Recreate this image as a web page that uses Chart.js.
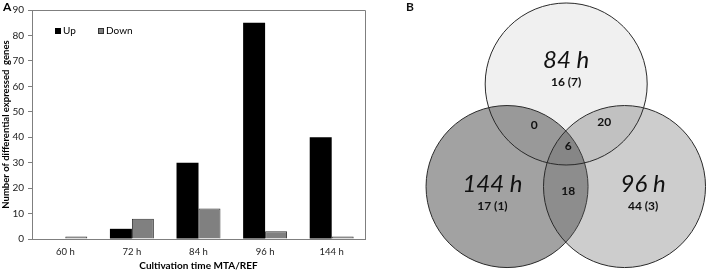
<!DOCTYPE html>
<html>
<head>
<meta charset="utf-8">
<script src="https://cdn.jsdelivr.net/npm/chart.js@4"></script>
<style>
  html, body { margin: 0; padding: 0; background: #fff; }
  #wrap { position: relative; width: 709px; height: 272px; }
  #barBox { position: absolute; left: 0; top: 0; width: 375px; height: 272px; }
  #vennBox { position: absolute; left: 375px; top: 0; width: 334px; height: 272px; }
</style>
</head>
<body>
<div id="wrap">
  <div id="barBox"><canvas id="barChart"></canvas></div>
  <div id="vennBox"><canvas id="vennChart"></canvas></div>
</div>
<script>
// panel A data
const timepoints = ['60 h', '72 h', '84 h', '96 h', '144 h'];
const upGenes = [0, 4, 30, 85, 40];
const downGenes = [1, 8, 12, 3, 1];
const yTicks = [0, 10, 20, 30, 40, 50, 60, 70, 80, 90];

// panel B data
const vennSets = ['144 h', '96 h', '84 h'];
const vennUnique = ['17 (1)', '44 (3)', '16 (7)'];
const vennOverlaps = ['0', '20', '18', '6']; // 84&144, 84&96, 96&144, all

Chart.defaults.font.family = 'Lato, "Liberation Sans", sans-serif';
Chart.defaults.animation = false;

// plot frame + legend + panel letter for the bar chart
const barExtras = {
  id: 'barExtras',
  afterDraw(chart) {
    const ctx = chart.ctx;
    const a = chart.chartArea;
    ctx.save();
    ctx.strokeStyle = '#7f7f7f';
    ctx.lineWidth = 1;
    ctx.beginPath();
    ctx.moveTo(a.left, a.top + 0.5);
    ctx.lineTo(a.right + 0.5, a.top + 0.5);
    ctx.lineTo(a.right + 0.5, a.bottom);
    ctx.stroke();

    // legend
    let x = a.left + 23;
    const y = 31;
    ctx.font = '10px Lato, sans-serif';
    ctx.textBaseline = 'middle';
    chart.data.datasets.forEach(ds => {
      ctx.fillStyle = ds.backgroundColor;
      ctx.fillRect(x, y - 3, 6, 6);
      ctx.strokeStyle = ds.borderColor;
      ctx.strokeRect(x + 0.5, y - 2.5, 5, 5);
      ctx.fillStyle = '#000';
      ctx.fillText(ds.label, x + 8, y);
      x += 43;
    });

    ctx.font = 'bold 12px Lato, sans-serif';
    ctx.fillStyle = '#000';
    ctx.textBaseline = 'top';
    ctx.fillText('A', 3, 1);
    ctx.restore();
  }
};

new Chart(document.getElementById('barChart'), {
  type: 'bar',
  data: {
    labels: timepoints,
    datasets: [
      { label: 'Up', data: upGenes, backgroundColor: '#000000', borderColor: '#000000', borderWidth: 0 },
      { label: 'Down', data: downGenes, backgroundColor: '#808080', borderColor: '#333333', borderWidth: 1 }
    ]
  },
  options: {
    responsive: true,
    maintainAspectRatio: false,
    layout: { padding: { top: 0, right: 10, left: 0, bottom: 0 } },
    categoryPercentage: 0.66,
    barPercentage: 1,
    plugins: { legend: { display: false }, tooltip: { enabled: false } },
    scales: {
      x: {
        grid: { display: false, drawTicks: false },
        border: { color: '#7f7f7f' },
        ticks: { color: '#222', font: { size: 9.5 }, padding: 7 },
        title: {
          display: true, text: 'Cultivation time MTA/REF', color: '#000',
          font: { size: 10, weight: 'bold' }, padding: { top: 1, bottom: 0 }
        },
        afterFit(scale) { scale.height = 33; }
      },
      y: {
        min: 0, max: 90,
        afterBuildTicks(scale) { scale.ticks = yTicks.map(v => ({ value: v })); },
        grid: { drawOnChartArea: false, drawTicks: true, tickLength: 4, color: '#7f7f7f' },
        border: { color: '#7f7f7f' },
        ticks: { color: '#222', font: { size: 10 }, padding: 4 },
        title: {
          display: true, text: 'Number of differential expressed  genes', color: '#000',
          font: { size: 9.5, weight: 'bold' }, padding: { top: 0, bottom: 0 }
        },
        afterFit(scale) { scale.width = 32; }
      }
    }
  },
  plugins: [barExtras]
});

// venn layout, in circle-radius units
const vennCenters = [{ x: -0.73, y: -0.633 }, { x: 0.72, y: -0.633 }, { x: 0, y: 0.633 }];
const vennFills = ['rgba(162,162,162,1)', 'rgba(92,92,92,0.31)', 'rgba(55,55,55,0.075)'];
const nameSpots = [{ x: -0.91, y: -0.61 }, { x: 0.95, y: -0.61 }, { x: 0, y: 0.93 }];
const overlapSpots = [{ x: -0.395, y: 0.13 }, { x: 0.47, y: 0.165 }, { x: 0.025, y: -0.69 }, { x: 0.025, y: -0.135 }];

const vennText = {
  id: 'vennText',
  afterDatasetsDraw(chart) {
    const ctx = chart.ctx;
    const sx = chart.scales.x, sy = chart.scales.y;
    const unit = sx.getPixelForValue(1) - sx.getPixelForValue(0);
    ctx.save();
    ctx.fillStyle = '#111';
    ctx.textAlign = 'center';
    ctx.textBaseline = 'middle';
    vennSets.forEach((name, i) => {
      const px = sx.getPixelForValue(nameSpots[i].x);
      const py = sy.getPixelForValue(nameSpots[i].y);
      ctx.font = 'italic 24px Lato, sans-serif';
      ctx.fillText(name, px, py);
      ctx.font = 'bold 12px Lato, sans-serif';
      ctx.fillText(vennUnique[i], px, py + 0.27 * unit);
    });
    ctx.font = 'bold 12px Lato, sans-serif';
    vennOverlaps.forEach((t, i) => {
      ctx.fillText(t, sx.getPixelForValue(overlapSpots[i].x), sy.getPixelForValue(overlapSpots[i].y));
    });
    ctx.textAlign = 'left';
    ctx.textBaseline = 'top';
    ctx.fillText('B', 31, 1);
    ctx.restore();
  }
};

new Chart(document.getElementById('vennChart'), {
  type: 'scatter',
  data: {
    datasets: [{
      label: 'sets',
      data: vennCenters,
      pointBackgroundColor: vennFills,
      pointBorderColor: '#2a2a2a',
      pointBorderWidth: 1,
      pointRadius: c => c.chart.scales.x.getPixelForValue(1) - c.chart.scales.x.getPixelForValue(0)
    }]
  },
  options: {
    responsive: true,
    maintainAspectRatio: false,
    layout: { padding: 0 },
    plugins: { legend: { display: false }, tooltip: { enabled: false } },
    scales: {
      x: { display: false, min: -2.36, max: 1.763 },
      y: { display: false, min: -1.688, max: 1.67 }
    }
  },
  plugins: [vennText]
});
</script>
</body>
</html>
